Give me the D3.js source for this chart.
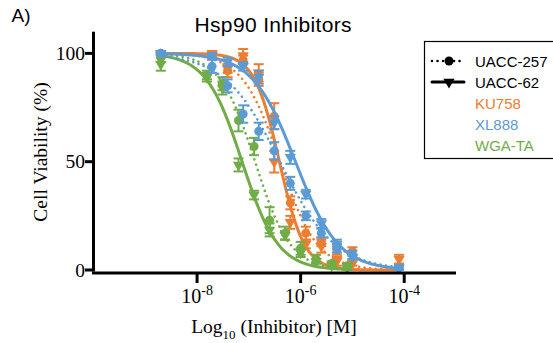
<!DOCTYPE html>
<html>
<head>
<meta charset="utf-8">
<script src="https://cdn.jsdelivr.net/npm/d3@7"></script>
<style>
  body { margin: 0; background: #fff; }
  svg { display: block; }
  .serif { font-family: "Liberation Serif", "Times New Roman", serif; fill: #000; }
  .sans { font-family: "Liberation Sans", Arial, sans-serif; }
</style>
</head>
<body>
<svg id="chart" width="553" height="343"></svg>
<script>
// concentrations, log10 [M]
const concKX = [-8.7, -7.71, -7.41, -7.11, -6.81, -6.51, -6.2, -5.9, -5.6, -5.3, -5.0, -4.1];
const concWGA = [-8.7, -7.81, -7.51, -7.2, -6.9, -6.6, -6.3, -6.0, -5.7, -5.4, -5.1];

// cell viability (%), mean and SEM
const ku758_257 = [100, 99, 92, 97, 88, 71, 31, 17, 13, 9, 8.5, 1.5];
const ku758_257Sem = [0.5, 1, 3, 2, 3, 6, 3, 3, 2, 2, 2, 1];
const ku758_62 = [100, 100, 93, 99, 91, 50, 22, 12, 11, 4, 3, 5];
const ku758_62Sem = [0.5, 1, 2, 3, 4, 5, 3, 2, 3, 2, 1, 2];
const xl888_257 = [100, 94, 85, 72, 64, 55, 40, 25, 17, 10, 7, 1];
const xl888_257Sem = [1, 3, 3, 4, 4, 4, 3, 2, 2, 2, 2, 1];
const xl888_62 = [100, 99, 96, 94, 89, 68, 52, 35, 21.5, 12, 6, 1];
const xl888_62Sem = [0.5, 1, 2, 2, 3, 3, 3, 2, 2, 2, 1, 1];
const wga_257 = [98, 90, 86, 69, 57, 23, 17, 10, 5, 3, 2];
const wga_257Sem = [2, 2, 3, 5, 4, 6, 3, 3, 2, 1, 1];
const wga_62 = [95, 89, 84, 48.5, 34.6, 18.5, 16, 8, 4, 2, 1];
const wga_62Sem = [3, 2, 3, 3, 2, 3, 2, 2, 1, 1, 1];

// 4PL fit parameters (top 100, bottom 0), order: KU758/257, KU758/62, XL888/257, XL888/62, WGA-TA/257, WGA-TA/62
const fitLogIC50 = [-6.4, -6.41, -6.4, -6.1, -6.88, -7.13];
const fitHill = [1.2, 1.8, 0.82, 1.05, 1.28, 1.25];

const drugs = ['KU758', 'XL888', 'WGA-TA'];
const cellLines = ['UACC-257', 'UACC-62'];
const yTicks = [0, 50, 100];
const xTicks = [-8, -6, -4];

const drugColors = { 'KU758': '#ED7D31', 'XL888': '#5B9BD5', 'WGA-TA': '#70AD47' };

const series = [
  { drug: 'KU758', line: 'UACC-257', x: concKX, y: ku758_257, sem: ku758_257Sem, fit: 0 },
  { drug: 'KU758', line: 'UACC-62', x: concKX, y: ku758_62, sem: ku758_62Sem, fit: 1 },
  { drug: 'WGA-TA', line: 'UACC-257', x: concWGA, y: wga_257, sem: wga_257Sem, fit: 4 },
  { drug: 'WGA-TA', line: 'UACC-62', x: concWGA, y: wga_62, sem: wga_62Sem, fit: 5 },
  { drug: 'XL888', line: 'UACC-257', x: concKX, y: xl888_257, sem: xl888_257Sem, fit: 2 },
  { drug: 'XL888', line: 'UACC-62', x: concKX, y: xl888_62, sem: xl888_62Sem, fit: 3 },
];

const svg = d3.select('#chart');

const x = d3.scaleLinear().domain([-10, -3]).range([93.5, 456]);
const y = d3.scaleLinear().domain([0, 110]).range([270, 31.7]);
const axisY = 273;

const circleSym = d3.symbol().type(d3.symbolCircle).size(64);
const triSym = d3.symbol().type(d3.symbolTriangle).size(55);

function markerPath(line) {
  return line === 'UACC-257' ? circleSym() : triSym();
}
function markerTransform(line, px, py) {
  return line === 'UACC-257' ? `translate(${px},${py})` : `translate(${px},${py}) rotate(180)`;
}

function fourPL(lx, i) {
  return 100 / (1 + Math.pow(10, fitHill[i] * (lx - fitLogIC50[i])));
}

const plot = svg.append('g');

series.forEach(s => {
  const color = drugColors[s.drug];
  const g = plot.append('g');
  const lo = d3.min(s.x), hi = d3.max(s.x);
  const curve = d3.range(0, 201).map(k => {
    const lx = lo + (hi - lo) * k / 200;
    return [lx, fourPL(lx, s.fit)];
  });
  g.append('path')
    .attr('d', d3.line().x(d => x(d[0])).y(d => y(d[1]))(curve))
    .attr('fill', 'none')
    .attr('stroke', color)
    .attr('stroke-width', s.line === 'UACC-257' ? 2.6 : 3)
    .attr('stroke-linecap', 'round')
    .attr('stroke-dasharray', s.line === 'UACC-257' ? '0.01 5.5' : null);

  const pts = s.x.map((lx, i) => ({ lx, v: s.y[i], e: s.sem[i] }));
  const eb = g.append('g').attr('stroke', color).attr('stroke-width', 2);
  pts.forEach(p => {
    eb.append('line')
      .attr('x1', x(p.lx)).attr('x2', x(p.lx))
      .attr('y1', y(p.v - p.e)).attr('y2', y(p.v + p.e));
    [p.v - p.e, p.v + p.e].forEach(v => {
      eb.append('line')
        .attr('x1', x(p.lx) - 5).attr('x2', x(p.lx) + 5)
        .attr('y1', y(v)).attr('y2', y(v));
    });
  });

  g.selectAll('path.mk')
    .data(pts)
    .join('path')
    .attr('class', 'mk')
    .attr('d', markerPath(s.line))
    .attr('transform', d => markerTransform(s.line, x(d.lx), y(d.v)))
    .attr('fill', color);
});

// axes
const axes = svg.append('g').attr('stroke', '#000').attr('stroke-width', 3);
axes.append('line').attr('x1', 93.5).attr('x2', 93.5).attr('y1', 31.7).attr('y2', 271.5);
axes.append('line').attr('x1', 92).attr('x2', 456).attr('y1', axisY).attr('y2', axisY);
yTicks.forEach(t => {
  axes.append('line').attr('x1', 85).attr('x2', 93.5).attr('y1', y(t)).attr('y2', y(t));
});
xTicks.forEach(t => {
  axes.append('line').attr('x1', x(t)).attr('x2', x(t)).attr('y1', axisY).attr('y2', axisY + 10);
});

svg.append('g').selectAll('text')
  .data(yTicks)
  .join('text')
  .attr('class', 'serif')
  .attr('x', 85)
  .attr('y', d => y(d) + 6.5)
  .attr('text-anchor', 'end')
  .style('font-size', '19.5px')
  .text(d => d);

xTicks.forEach(t => {
  const tx = svg.append('text')
    .attr('class', 'serif')
    .attr('x', x(t))
    .attr('y', 302.5)
    .attr('text-anchor', 'middle')
    .style('font-size', '20px');
  tx.append('tspan').text('10');
  tx.append('tspan').attr('dy', -8).style('font-size', '14px').text(t);
});

// axis titles
const xl = svg.append('text')
  .attr('class', 'serif')
  .attr('x', 274)
  .attr('y', 333)
  .attr('text-anchor', 'middle')
  .style('font-size', '19.5px');
xl.append('tspan').text('Log');
xl.append('tspan').attr('dy', 6).style('font-size', '13px').text('10');
xl.append('tspan').attr('dy', -6).text(' (Inhibitor) [M]');

svg.append('text')
  .attr('class', 'serif')
  .attr('transform', 'translate(47,152) rotate(-90)')
  .attr('text-anchor', 'middle')
  .style('font-size', '19.5px')
  .text('Cell Viability (%)');

svg.append('text')
  .attr('class', 'sans')
  .attr('x', 194.5)
  .attr('y', 31.5)
  .attr('textLength', 157)
  .attr('lengthAdjust', 'spacing')
  .style('font-size', '21px')
  .text('Hsp90 Inhibitors');

svg.append('text')
  .attr('class', 'sans')
  .attr('x', 11.5)
  .attr('y', 22.3)
  .style('font-size', '19px')
  .text('A)');

// legend
const lg = svg.append('g');
lg.append('rect')
  .attr('x', 424.5).attr('y', 41.5)
  .attr('width', 140).attr('height', 117)
  .attr('fill', '#fff').attr('stroke', '#000').attr('stroke-width', 1.2);

const rowY = d3.scaleLinear().domain([0, 4]).range([61, 145]);
cellLines.forEach((cl, i) => {
  const cy = rowY(i);
  lg.append('line')
    .attr('x1', 432).attr('x2', 464).attr('y1', cy).attr('y2', cy)
    .attr('stroke', '#000')
    .attr('stroke-width', cl === 'UACC-257' ? 2.6 : 3)
    .attr('stroke-linecap', 'round')
    .attr('stroke-dasharray', cl === 'UACC-257' ? '0.01 5.5' : null);
  lg.append('path')
    .attr('d', markerPath(cl))
    .attr('transform', markerTransform(cl, 449, cy))
    .attr('fill', '#000');
  lg.append('text')
    .attr('class', 'sans')
    .attr('x', 475).attr('y', cy + 5.5)
    .style('font-size', '15px')
    .attr('fill', '#000')
    .text(cl);
});
drugs.forEach((dname, i) => {
  lg.append('text')
    .attr('class', 'sans')
    .attr('x', 475).attr('y', rowY(i + 2) + 5.5)
    .style('font-size', '15px')
    .attr('fill', drugColors[dname])
    .text(dname);
});
</script>
</body>
</html>
